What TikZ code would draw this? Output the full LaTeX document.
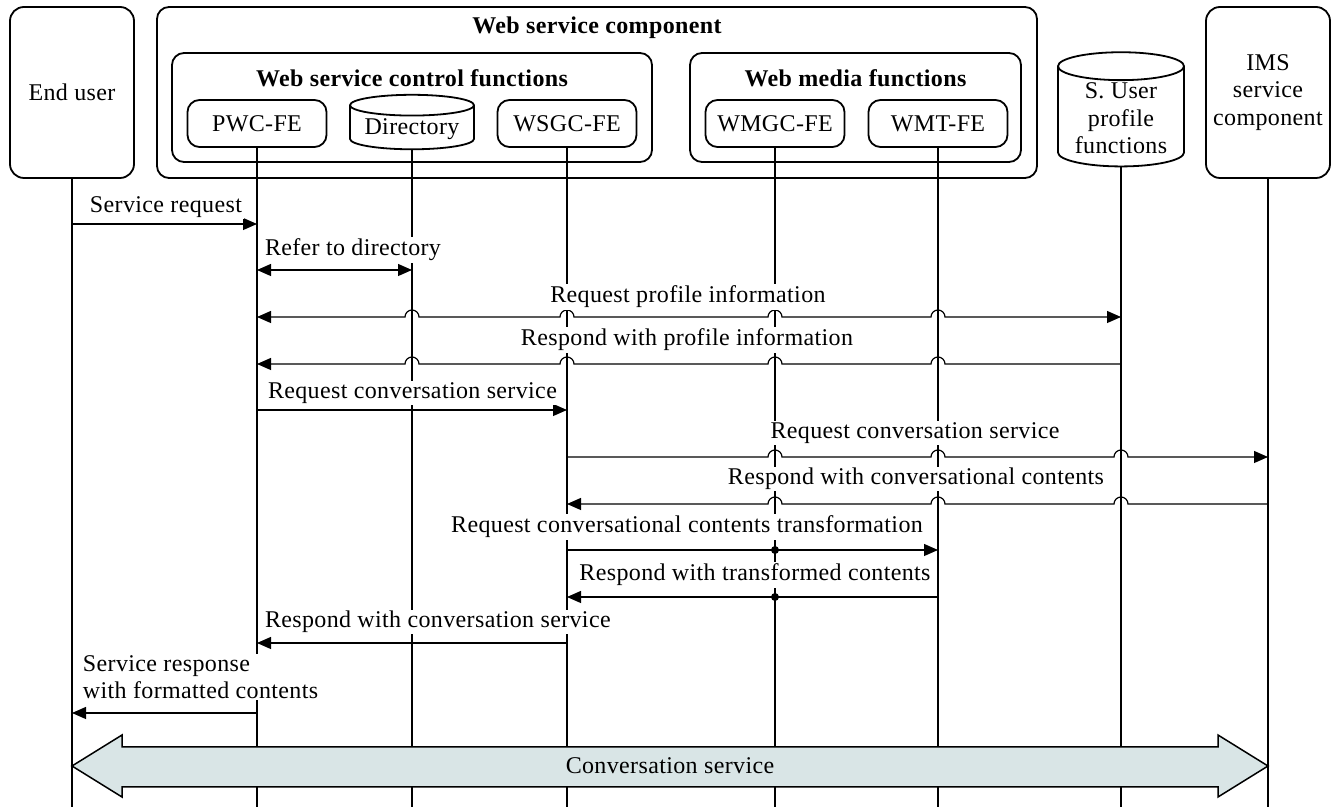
\documentclass[tikz,border=0pt]{standalone}
\usepackage{fontspec}
\setmainfont{Liberation Serif}[LetterSpace=1.5]
\usetikzlibrary{arrows.meta,shapes.geometric}

\definecolor{convfill}{RGB}{217,229,230}
\newcommand{\diagfont}{\fontsize{12pt}{13.7pt}\selectfont}
\newcommand{\hop}[2]{-- ([xshift=-3.5pt]#1 |- #2) arc[start angle=180,end angle=0,radius=3.5pt]}

\tikzset{
    entity/.style={draw, line width=0.9pt, rounded corners=7pt, align=center, minimum width=62pt, minimum height=85.5pt},
    group/.style={draw, line width=0.9pt, rounded corners=6pt},
    grouptitle/.style={font=\bfseries\diagfont},
    fe/.style={draw, line width=0.9pt, rounded corners=6pt, minimum width=69.5pt, minimum height=23.5pt},
    store/.style={draw, line width=0.9pt, cylinder, shape border rotate=90, align=center, inner sep=1pt},
    lifeline/.style={line width=0.9pt},
    msg/.style={line width=0.6pt},
    lbl/.style={fill=white, inner sep=0.8pt}
}

\begin{document}
\begin{tikzpicture}[x=0.5pt, y=-0.5pt, >={Triangle[length=7pt,width=6pt]}, every node/.style={font=\diagfont}]
    \useasboundingbox (0,0) rectangle (1341,807);

    \node[entity] (user) at (72,92.5) {End user};
    \node[entity] (ims) at (1268,92.5) {IMS\\service\\component};

    \node[group, minimum width=440pt, minimum height=85.5pt] (wsc) at (597,92.5) {};
    \node[grouptitle] (wsctitle) at (597,28) {Web service component};

    \node[group, minimum width=240pt, minimum height=54.5pt] (wscf) at (412,107.5) {};
    \node[grouptitle] (wscftitle) at (412,78) {Web service control functions};
    \node[fe] (pwc) at (257,123.5) {PWC-FE};
    \node[store, minimum width=62pt, minimum height=26pt, aspect=0.21] (dir) at (412,129) {Directory};
    \node[fe] (wsgc) at (567,123.5) {WSGC-FE};

    \node[group, minimum width=165.5pt, minimum height=54.5pt] (wmf) at (855.5,107.5) {};
    \node[grouptitle] (wmftitle) at (855.5,78) {Web media functions};
    \node[fe] (wmgc) at (775,123.5) {WMGC-FE};
    \node[fe] (wmt) at (938,123.5) {WMT-FE};

    \node[store, minimum width=63pt, minimum height=56.5pt, aspect=0.29] (sup) at (1121,118.5) {S. User\\profile\\functions};

    \coordinate (bottom) at (0,807);
    \foreach \n in {user,pwc,dir,wsgc,wmgc,wmt,sup,ims}
        \draw[lifeline] (\n.south) -- (\n |- bottom);

    \foreach \r/\y in {1/224,2/270,3/317,4/364,5/410,6/457,7/504,8/550,9/597,10/643,11/713}
        \coordinate (r\r) at (0,\y);

    \draw[msg,->] (user |- r1) -- (pwc |- r1);
    \draw[msg,<->] (pwc |- r2) -- (dir |- r2);
    \draw[msg,<->] (pwc |- r3) \hop{dir}{r3} \hop{wsgc}{r3} \hop{wmgc}{r3} \hop{wmt}{r3} -- (sup |- r3);
    \draw[msg,<-] (pwc |- r4) \hop{dir}{r4} \hop{wsgc}{r4} \hop{wmgc}{r4} \hop{wmt}{r4} -- (sup |- r4);
    \draw[msg,->] (pwc |- r5) -- (wsgc |- r5);
    \draw[msg,->] (wsgc |- r6) \hop{wmgc}{r6} \hop{wmt}{r6} \hop{sup}{r6} -- (ims |- r6);
    \draw[msg,<-] (wsgc |- r7) \hop{wmgc}{r7} \hop{wmt}{r7} \hop{sup}{r7} -- (ims |- r7);
    \draw[msg,->] (wsgc |- r8) -- (wmt |- r8);
    \draw[msg,<-] (wsgc |- r9) -- (wmt |- r9);
    \fill (wmgc |- r8) circle (2pt);
    \fill (wmgc |- r9) circle (2pt);
    \draw[msg,<-] (pwc |- r10) -- (wsgc |- r10);
    \draw[msg,<-] (user |- r11) -- (pwc |- r11);

    \node[lbl, anchor=west] (t1) at (88,207) {Service request};
    \node[lbl, anchor=west] (t2) at (263,250) {Refer to directory};
    \node[lbl] (t3) at (688,297) {Request profile information};
    \node[lbl] (t4) at (687,340) {Respond with profile information};
    \node[lbl, anchor=west] (t5) at (266,393) {Request conversation service};
    \node[lbl] (t6) at (915,433) {Request conversation service};
    \node[lbl] (t7) at (916,479) {Respond with conversational contents};
    \node[lbl] (t8) at (687,527) {Request conversational contents transformation};
    \node[lbl] (t9) at (755,575) {Respond with transformed contents};
    \node[lbl, anchor=west] (t10) at (263,622) {Respond with conversation service};
    \node[lbl, anchor=west, align=left] (t11) at (81,677) {Service response\\with formatted contents};

    \coordinate (conv) at (0,766);
    \filldraw[line width=0.75pt, fill=convfill] (user |- conv) -- ++(50,-31) -- ++(0,12) -- ++(1096,0) -- ++(0,-12) -- (ims |- conv)
        -- ++(-50,31) -- ++(0,-10) -- ++(-1096,0) -- ++(0,10) -- cycle;
    \node (convtext) at (670,766) {Conversation service};

\end{tikzpicture}
\end{document}
